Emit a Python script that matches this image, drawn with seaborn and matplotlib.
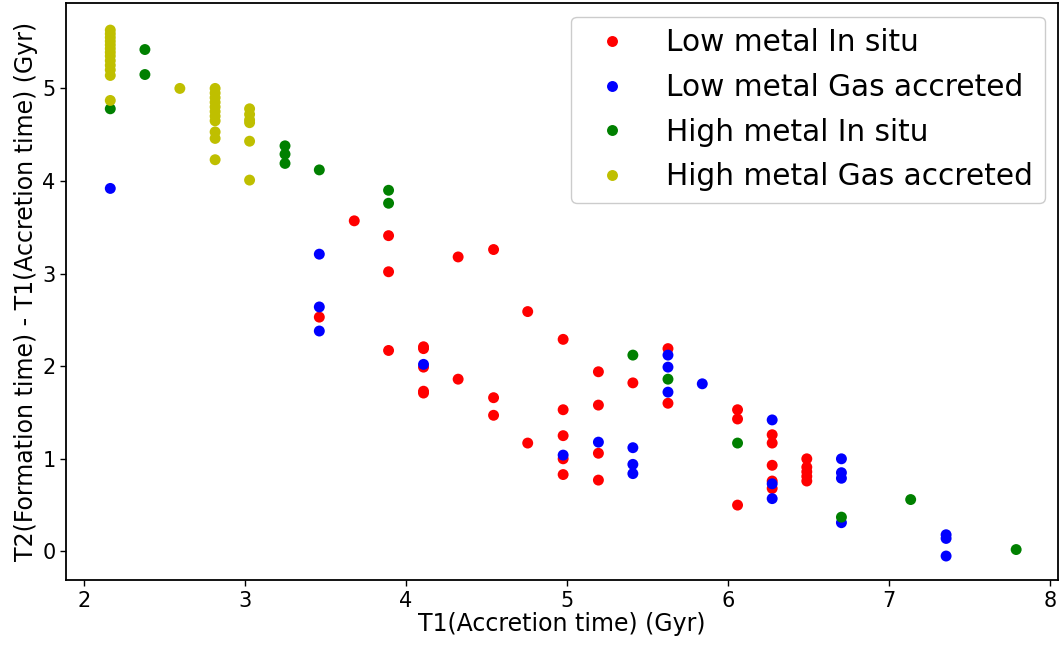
import numpy as np
import pandas as pd
import matplotlib
matplotlib.use("Agg")
import matplotlib.pyplot as plt
import seaborn as sns

# Accretion time T1 (Gyr) and delay T2 - T1 (Gyr) for each population
low_insitu_t1 = [3.463, 3.68, 3.893, 3.893, 3.893, 4.11, 4.11, 4.11, 4.11, 4.11,
                 4.325, 4.325, 4.545, 4.545, 4.545, 4.757, 4.757,
                 4.977, 4.977, 4.977, 4.977, 4.977, 5.196, 5.196, 5.196, 5.196,
                 5.41, 5.628, 5.628, 6.06, 6.06, 6.06,
                 6.275, 6.275, 6.275, 6.275, 6.275, 6.49, 6.49, 6.49, 6.49, 6.49]
low_insitu_dt = [2.53, 3.57, 3.41, 3.02, 2.17, 2.21, 2.19, 1.99, 1.73, 1.71,
                 3.18, 1.86, 3.26, 1.66, 1.47, 2.59, 1.17,
                 2.29, 1.53, 1.25, 1.00, 0.83, 1.94, 1.58, 1.06, 0.77,
                 1.82, 2.19, 1.60, 1.53, 1.43, 0.50,
                 1.26, 1.17, 0.93, 0.76, 0.68, 1.00, 0.91, 0.86, 0.81, 0.76]

low_gas_t1 = [2.165, 3.463, 3.463, 3.463, 4.11, 4.977, 5.196, 5.41, 5.41, 5.41,
              5.628, 5.628, 5.628, 5.841, 6.275, 6.275, 6.275,
              6.705, 6.705, 6.705, 6.705, 7.355, 7.355, 7.355]
low_gas_dt = [3.92, 3.21, 2.64, 2.38, 2.02, 1.04, 1.18, 1.12, 0.94, 0.84,
              2.12, 1.99, 1.72, 1.81, 1.42, 0.73, 0.57,
              1.00, 0.85, 0.79, 0.31, 0.18, 0.14, -0.05]

high_insitu_t1 = [2.165, 2.38, 2.38, 3.25, 3.25, 3.25, 3.463, 3.893, 3.893,
                  5.41, 5.628, 6.06, 6.705, 7.135, 7.79]
high_insitu_dt = [4.78, 5.42, 5.15, 4.38, 4.29, 4.19, 4.12, 3.90, 3.76,
                  2.12, 1.86, 1.17, 0.37, 0.56, 0.02]

high_gas_t1 = [2.165] * 13 + [2.597] + [2.816] * 11 + [3.03] * 6
high_gas_dt = [5.63, 5.59, 5.55, 5.51, 5.47, 5.43, 5.39, 5.35, 5.30, 5.25, 5.20, 5.14, 4.87,
               5.00,
               5.00, 4.95, 4.90, 4.85, 4.80, 4.75, 4.70, 4.65, 4.53, 4.46, 4.23,
               4.78, 4.72, 4.66, 4.63, 4.43, 4.01]

labels = ["Low metal In situ", "Low metal Gas accreted",
          "High metal In situ", "High metal Gas accreted"]
colors = ["r", "b", "g", "y"]

groups = [(low_insitu_t1, low_insitu_dt), (low_gas_t1, low_gas_dt),
          (high_insitu_t1, high_insitu_dt), (high_gas_t1, high_gas_dt)]
df = pd.concat(
    [pd.DataFrame({"t1": t1, "dt": dt, "population": lab})
     for (t1, dt), lab in zip(groups, labels)],
    ignore_index=True,
)

sns.set_style("ticks")
plt.rcParams["font.family"] = ["DejaVu Sans"]
plt.rcParams.update({"text.color": "black", "axes.labelcolor": "black",
                     "xtick.color": "black", "ytick.color": "black",
                     "axes.edgecolor": "black"})

fig = plt.figure(figsize=(10.61, 6.46), dpi=100)
ax = fig.add_axes([0.0622, 0.102, 0.935, 0.893])

sns.scatterplot(data=df, x="t1", y="dt", hue="population", hue_order=labels,
                palette=dict(zip(labels, colors)), s=62, linewidth=0,
                ax=ax, legend=True)

ax.set_xlim(1.89, 8.05)
ax.set_ylim(-0.31, 5.92)
ax.set_xticks([2, 3, 4, 5, 6, 7, 8])
ax.set_yticks([0, 1, 2, 3, 4, 5])
ax.tick_params(labelsize=15, direction="out", length=4, width=1)
for sp in ax.spines.values():
    sp.set_linewidth(1.3)

ax.set_xlabel("T1(Accretion time) (Gyr)", fontsize=17, labelpad=1)
ax.set_ylabel("T2(Formation time) - T1(Accretion time) (Gyr)", fontsize=17, labelpad=3)

handles, hlabels = ax.get_legend_handles_labels()
ax.legend(handles, hlabels, loc="upper right", fontsize=21.3, markerscale=1.0,
          handletextpad=0.82, borderaxespad=0.45, labelspacing=0.53,
          framealpha=1.0, edgecolor="#cccccc", title=None)

fig.savefig("out.png", dpi=100)
